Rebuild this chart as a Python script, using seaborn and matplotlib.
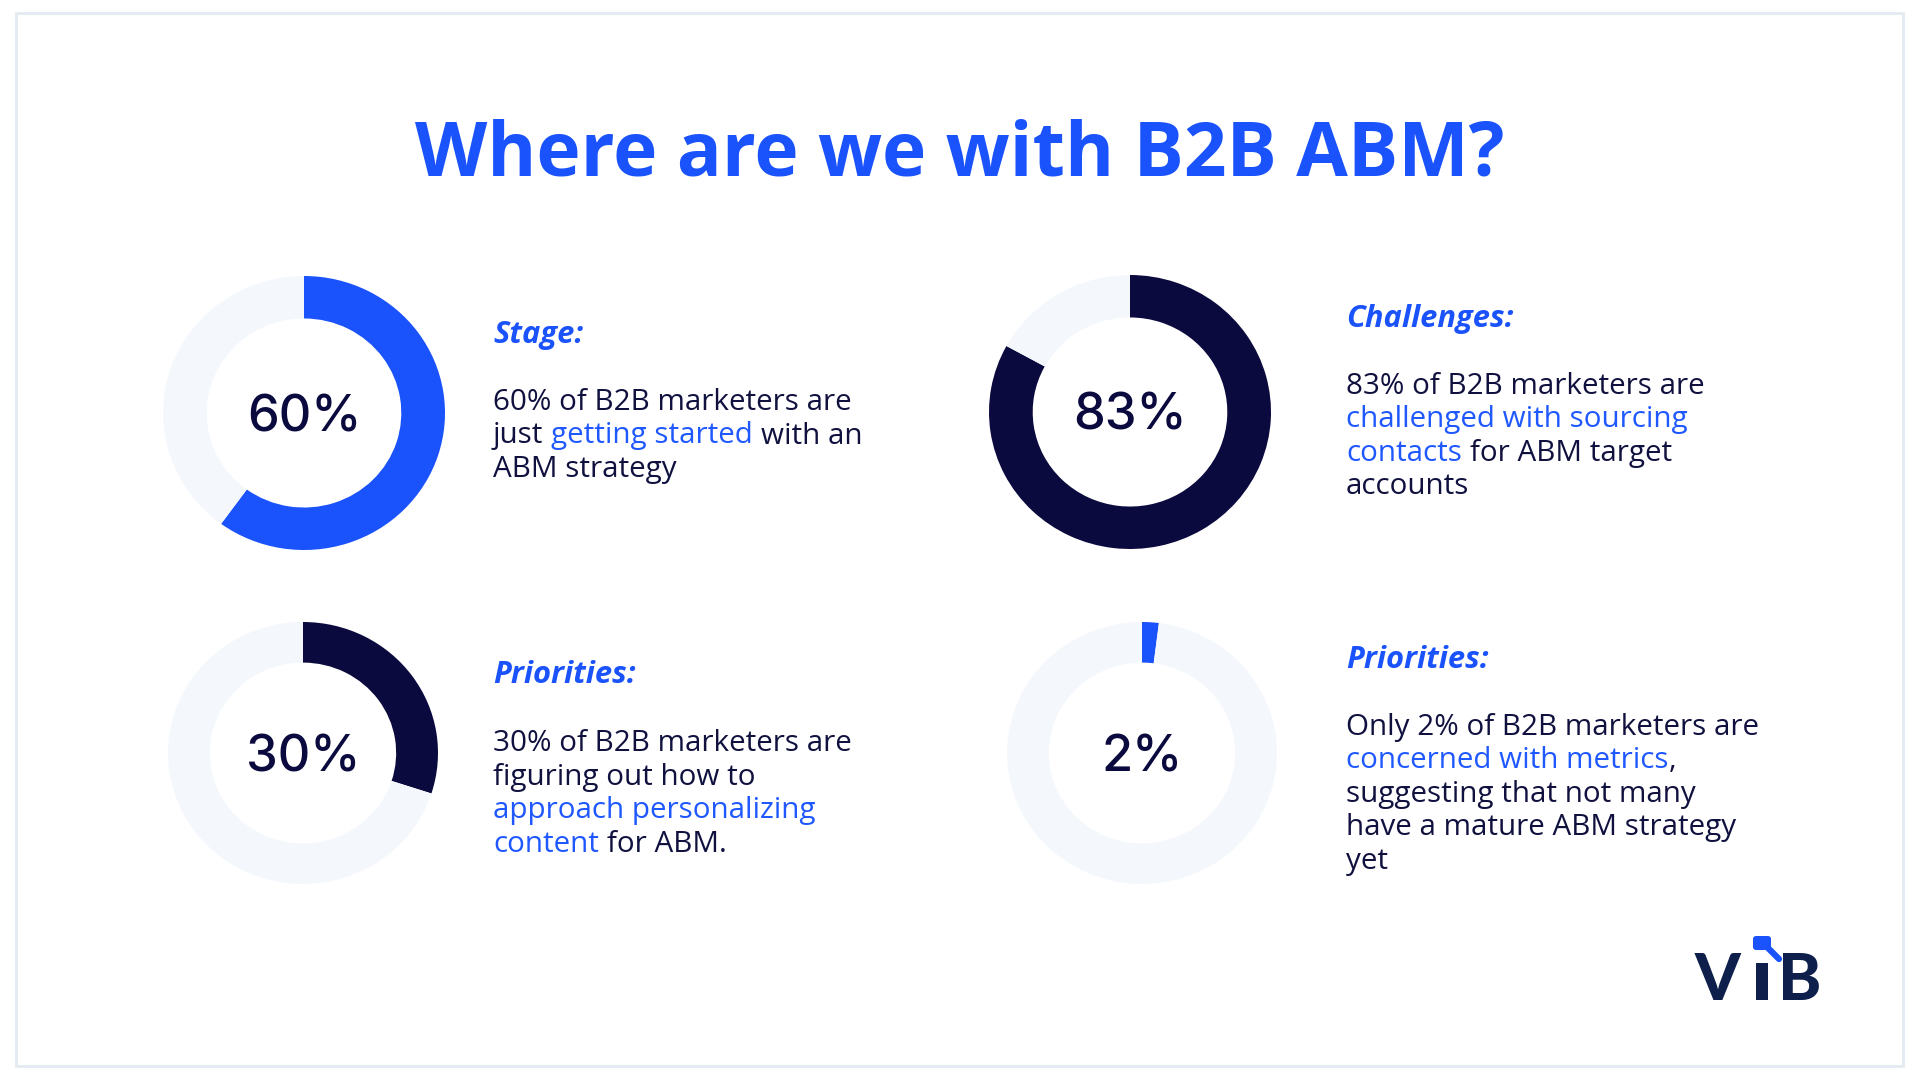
import matplotlib
matplotlib.use("Agg")
import matplotlib.pyplot as plt
import seaborn as sns
from matplotlib.patches import Rectangle, FancyBboxPatch

sns.set_theme(style="white")
plt.rcParams['font.family'] = ['Open Sans', 'DejaVu Sans']

# ---------------- data ----------------
title = "Where are we with B2B ABM?"
percent_values = [60, 83, 30, 2]
center_labels = ["60%", "83%", "30%", "2%"]
headings = ["Stage:", "Challenges:", "Priorities:", "Priorities:"]
# body text: lines of (segment, role) ; role "n" = normal, "h" = highlight
body_stage = [
    [("60% of B2B marketers are", "n")],
    [("just ", "n"), ("getting started ", "h"), ("with an", "n")],
    [("ABM strategy", "n")],
]
body_challenges = [
    [("83% of B2B marketers are", "n")],
    [("challenged with sourcing", "h")],
    [("contacts ", "h"), ("for ABM target", "n")],
    [("accounts", "n")],
]
body_priorities_1 = [
    [("30% of B2B marketers are", "n")],
    [("figuring out how to", "n")],
    [("approach personalizing", "h")],
    [("content ", "h"), ("for ABM.", "n")],
]
body_priorities_2 = [
    [("Only 2% of B2B marketers are", "n")],
    [("concerned with metrics", "h"), (",", "n")],
    [("suggesting that not many", "n")],
    [("have a mature ABM strategy", "n")],
    [("yet", "n")],
]
bodies = [body_stage, body_challenges, body_priorities_1, body_priorities_2]

# ---------------- style ----------------
BLUE = "#1a52fb"
NAVY = "#0b0a3e"
TEXT_NAVY = "#10113f"
TRACK = "#f4f8fc"
BORDER = "#e2eaf2"
LOGO_NAVY = "#0d1f4a"
ring_colors = [BLUE, NAVY, NAVY, BLUE]
role_colors = {"n": TEXT_NAVY, "h": "#1f58ff"}

W, H = 1920, 1080
fig = plt.figure(figsize=(W / 100, H / 100), dpi=100)
fig.patch.set_facecolor("white")
bg = fig.add_axes([0, 0, 1, 1])
bg.set_xlim(0, W)
bg.set_ylim(H, 0)
bg.axis("off")
renderer = fig.canvas.get_renderer()


def measure(s, **kw):
    t = bg.text(0, 0, s, **kw)
    w = t.get_window_extent(renderer).width
    t.remove()
    return w


# border
bg.add_patch(Rectangle((16, 13), 1887, 1053, fill=False, ec=BORDER, lw=2.0))

# title (fit to reference width)
title_kw = dict(family=["Open Sans", "DejaVu Sans"], weight="bold")
tsize = 60 * 1088 / measure(title, fontsize=60, **title_kw)
bg.text(960, 176, title, ha="center", va="baseline", color=BLUE,
        fontsize=tsize, **title_kw)

# donuts
centers = [(304, 413), (1130, 412), (303, 753), (1142, 753)]
radii = [(141, 137), (141, 137), (135, 131), (135, 131)]
num_kw = dict(family=["Inter", "DejaVu Sans"], weight="medium")
nsize = 40 * 115 / measure("60%", fontsize=40, **num_kw)
for v, lab, col, (cx, cy), (rx, ry) in zip(percent_values, center_labels,
                                            ring_colors, centers, radii):
    ax = fig.add_axes([(cx - rx) / W, 1 - (cy + ry) / H, 2 * rx / W, 2 * ry / H])
    ax.pie([v, 100 - v], startangle=90, counterclock=False,
           colors=[col, TRACK], radius=1.0,
           wedgeprops=dict(width=0.31, linewidth=0, antialiased=True))
    ax.set_aspect("auto")
    ax.set_xlim(-1, 1)
    ax.set_ylim(-1, 1)
    ax.axis("off")
    bg.text(cx, cy + 18, lab, ha="center", va="baseline", color=NAVY,
            fontsize=nsize, **num_kw)

# text blocks
body_kw = dict(family=["Open Sans", "DejaVu Sans"])
bsize = 1.02 * 18 * 352 / measure("60% of B2B marketers are", fontsize=18, **body_kw)
head_kw = dict(family=["Open Sans", "DejaVu Sans"], weight="bold", style="italic")
hsize = 20 * 167 / measure("Challenges:", fontsize=20, **head_kw)

text_x = [493, 1346, 493, 1346]
head_base = [343, 327, 683, 668]
body_base = [410, 394, 751, 735]
LINE = 33.5

for head, body, x0, hb, bb in zip(headings, bodies, text_x, head_base, body_base):
    bg.text(x0, hb, head, ha="left", va="baseline", color=BLUE,
            fontsize=hsize, **head_kw)
    for i, line in enumerate(body):
        y = bb + i * LINE
        full = ""
        for seg, role in line:
            full += seg
            seg_s = seg.strip()
            if not seg_s:
                continue
            upto = full.rstrip()
            x = x0 + measure(upto, fontsize=bsize, **body_kw) - \
                measure(seg_s, fontsize=bsize, **body_kw)
            bg.text(x, y, seg_s, ha="left", va="baseline",
                    color=role_colors[role], fontsize=bsize, **body_kw)

# logo
logo_kw = dict(family=["Lato", "DejaVu Sans"], weight="black")
lsize = 47
bg.text(1695, 1000, "V", ha="left", va="baseline", color=LOGO_NAVY,
        fontsize=lsize, **logo_kw)
bg.add_patch(Rectangle((1756, 963), 12, 37, color=LOGO_NAVY, lw=0))
bg.text(1778, 1000, "B", ha="left", va="baseline", color=LOGO_NAVY,
        fontsize=lsize, **logo_kw)
bg.add_patch(FancyBboxPatch((1753, 936), 18, 14,
                            boxstyle="round,pad=0,rounding_size=3",
                            color=BLUE, lw=0))
bg.plot([1766, 1779], [946, 959], color=BLUE, lw=4.5, solid_capstyle="round")

fig.savefig("out.png", dpi=100, facecolor="white")
